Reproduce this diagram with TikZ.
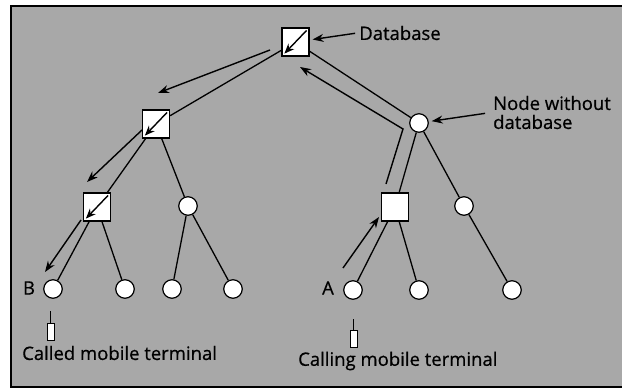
\documentclass[tikz,border=0pt]{standalone}
\usepackage{fontspec}
\setmainfont{Open Sans}
\newfontfamily\lblfont[FakeBold=0.6]{Open Sans}
\usetikzlibrary{arrows.meta}

\begin{document}
\begin{tikzpicture}[x=1pt,y=-1pt]
\tikzstyle{sq}=[rectangle, draw, fill=white, line width=1.2pt,
                        minimum width=27pt, minimum height=28pt, inner sep=0pt]
\tikzstyle{vtx}=[circle, draw, fill=white, line width=1.2pt, minimum size=18.5pt, inner sep=0pt]
\tikzstyle{lbl}=[inner sep=2pt, font=\lblfont\fontsize{18.5}{19}\selectfont]
\tikzstyle{term}=[rectangle, draw, fill=white, line width=0.9pt,
                        minimum width=7pt, minimum height=17pt, inner sep=0pt]
\tikzstyle{edge}=[line width=1.3pt]
\tikzstyle{arr}=[line width=1.4pt, -{Stealth[length=11pt,width=8pt]}]
\tikzstyle{icon}=[line width=1.4pt, -{Stealth[length=10pt,width=8pt]}]

	\useasboundingbox (0,0) rectangle (622,388);
	\fill[black!34] (11,6) rectangle (622,387);
	\draw[line width=1.4pt] (622,6) -- (11,6) -- (11,387) -- (622,387);

	\node[sq] (db) at (295.5,42){};
	\node[sq] (l1a) at (156,124){};
	\node[vtx] (l1b) at (419,123){};
	\node[sq] (l2a) at (97,207){};
	\node[vtx] (l2b) at (188,206){};
	\node[sq] (l2c) at (395,207){};
	\node[vtx] (l2d) at (464,206){};
	\node[vtx] (b) at (53,289){};
	\node[vtx] (q2) at (125,289){};
	\node[vtx] (q3) at (172,289){};
	\node[vtx] (q4) at (233,289){};
	\node[vtx] (a) at (353,290){};
	\node[vtx] (q6) at (419,290){};
	\node[vtx] (q7) at (512,290){};

\foreach \i/\j in {db/l1a,db/l1b,l1a/l2a,l1a/l2b,l1b/l2c,l1b/l2d,l2a/b,l2a/q2,l2b/q3,l2b/q4,l2c/a,l2c/q6,l2d/q7}{\draw[edge] (\i) -- (\j);}
\foreach \i in {db,l1a,l2a}{\draw[icon] ([shift={(-3,3)}]\i.north east) -- ([shift={(3,-3)}]\i.south west);}

	% route of the call
	\coordinate (ra) at (343,268);
	\coordinate (rb) at (379,217);
	\coordinate (rc) at (386,184);
	\coordinate (rd) at (403,129);
	\coordinate (re) at (300,67);
	\coordinate (rf) at (270,50);
	\coordinate (rg) at (158,93);
	\coordinate (rh) at (142,130);
	\coordinate (ri) at (87,182);
	\coordinate (rj) at (81,220);
	\coordinate (rk) at (45,272);
	\draw[arr] (rc) -- (rd) -- (re);
\foreach \i/\j in {ra/rb,rf/rg,rh/ri,rj/rk}{\draw[arr] (\i) -- (\j);}

	\node[lbl] (dblbl) at (400,33){Database};
	\node[lbl, align=left, anchor=west] (ndlbl) at (491,112.5){Node without\\database};
	\draw[arr, shorten <=2pt, shorten >=3pt] (dblbl.west) -- (db);
	\draw[arr, shorten <=6pt, shorten >=3pt] (ndlbl.west) -- (l1b);

	\node[lbl] (blbl) at (29,288){B};
	\node[lbl] (albl) at (328,288){A};
	\node[term] (tb) at (50.5,331.5){};
	\node[term] (ta) at (353.5,338.5){};
	\draw[line width=0.9pt] (tb.north) -- ++(0,-12);
	\draw[line width=0.9pt] (ta.north) -- ++(0,-11);
	\node[lbl, anchor=west] (calledlbl) at (20,353){Called mobile terminal};
	\node[lbl, anchor=west] (callinglbl) at (296,361){Calling mobile terminal};

\end{tikzpicture}
\end{document}
